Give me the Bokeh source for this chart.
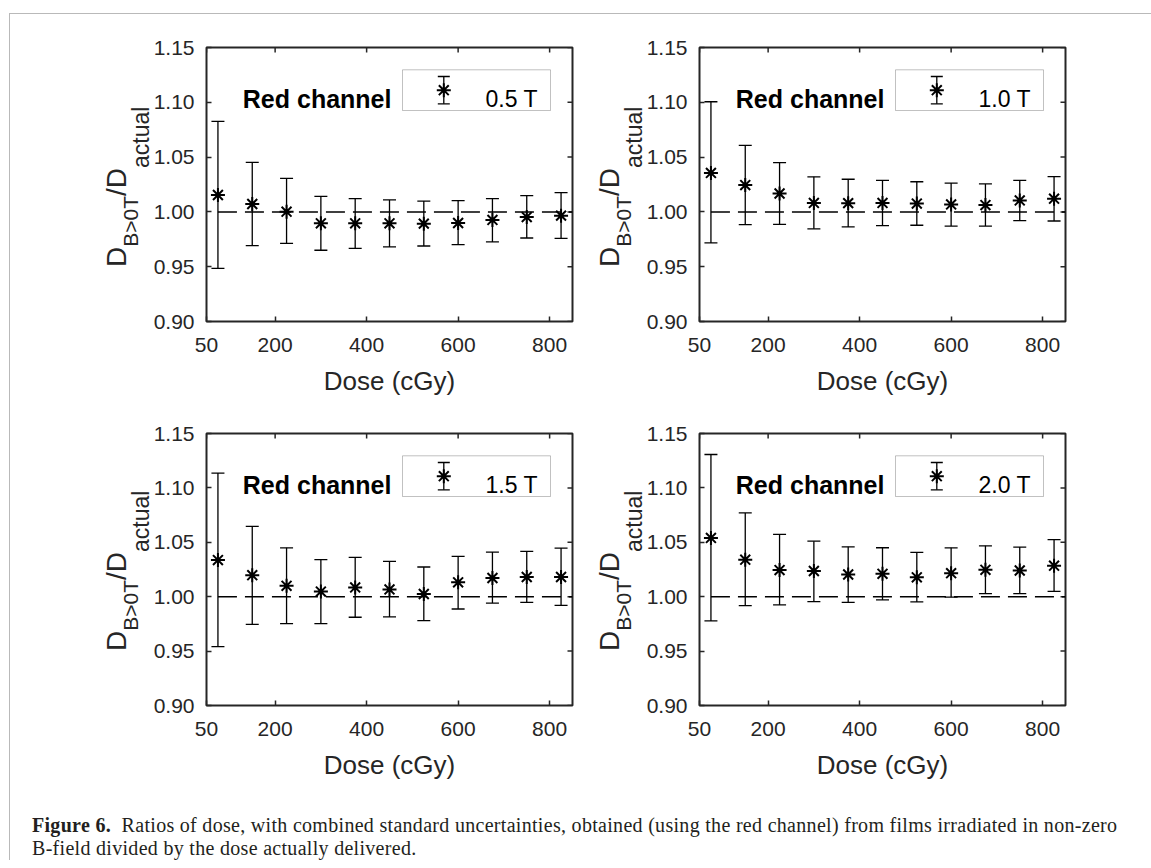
import math
from bokeh.plotting import figure
from bokeh.models import (ColumnDataSource, Whisker, TeeHead, FixedTicker,
                          Range1d, Label, BoxAnnotation, Div, Spacer, NumeralTickFormatter)
from bokeh.layouts import column, row
from bokeh.embed import file_html
from bokeh.resources import INLINE

# ---------------- data ----------------
dose = [75, 150, 225, 300, 375, 450, 525, 600, 675, 750, 825]

ratio_05 = [1.0154, 1.0072, 1.0002, 0.9896, 0.9896, 0.9896, 0.9893, 0.9899, 0.9927, 0.9953, 0.9966]
upper_05 = [1.0826, 1.0452, 1.0305, 1.0142, 1.0121, 1.0109, 1.0099, 1.0103, 1.0122, 1.0148, 1.0176]
lower_05 = [0.9484, 0.9693, 0.9713, 0.9650, 0.9668, 0.9680, 0.9689, 0.9702, 0.9726, 0.9762, 0.9759]

ratio_10 = [1.0356, 1.0245, 1.0168, 1.0082, 1.0080, 1.0082, 1.0076, 1.0068, 1.0062, 1.0105, 1.0121]
upper_10 = [1.1005, 1.0607, 1.0450, 1.0320, 1.0298, 1.0287, 1.0275, 1.0263, 1.0255, 1.0288, 1.0322]
lower_10 = [0.9717, 0.9884, 0.9886, 0.9846, 0.9863, 0.9875, 0.9878, 0.9871, 0.9871, 0.9920, 0.9917]

ratio_15 = [1.0337, 1.0198, 1.0100, 1.0047, 1.0085, 1.0067, 1.0025, 1.0132, 1.0172, 1.0181, 1.0181]
upper_15 = [1.1136, 1.0646, 1.0449, 1.0340, 1.0361, 1.0324, 1.0273, 1.0371, 1.0410, 1.0417, 1.0447]
lower_15 = [0.9542, 0.9746, 0.9752, 0.9753, 0.9811, 0.9814, 0.9780, 0.9887, 0.9941, 0.9948, 0.9921]

ratio_20 = [1.0540, 1.0340, 1.0245, 1.0236, 1.0204, 1.0210, 1.0178, 1.0216, 1.0247, 1.0241, 1.0285]
upper_20 = [1.1307, 1.0770, 1.0573, 1.0510, 1.0458, 1.0450, 1.0408, 1.0449, 1.0468, 1.0456, 1.0524]
lower_20 = [0.9777, 0.9918, 0.9924, 0.9955, 0.9948, 0.9970, 0.9952, 0.9996, 1.0028, 1.0028, 1.0049]

field_labels = ["0.5 T", "1.0 T", "1.5 T", "2.0 T"]
channel_label = "Red channel"
x_label = "Dose (cGy)"
y_label_parts = ["D", "B&gt;0T", "/D", "actual"]   # D_{B>0T}/D_{actual}
x_ticks = [50, 200, 400, 600, 800]
y_ticks = [0.90, 0.95, 1.00, 1.05, 1.10, 1.15]
ref_x = [75, 850]
ref_y = [1.0, 1.0]
x_lim = (50, 850)
y_lim = (0.90, 1.15)

caption_bold = "Figure 6."
caption_line1 = ("Ratios of dose, with combined standard uncertainties, obtained (using the red channel) "
                 "from films irradiated in non-zero")
caption_line2 = "B-field divided by the dose actually delivered."

# ---------------- styling ----------------
FONT = "Liberation Sans"
AX_COLOR = "#262626"
FW = 366
LEFT_AX = 56     # room for y tick labels


def make_panel(ratio, upper, lower, field, right, top, bottom, fh):
    p = figure(frame_width=FW, frame_height=fh,
               x_range=Range1d(*x_lim), y_range=Range1d(*y_lim),
               min_border_left=LEFT_AX, min_border_right=right,
               min_border_top=top, min_border_bottom=bottom,
               output_backend="svg", toolbar_location=None)
    p.grid.visible = False
    p.outline_line_color = AX_COLOR
    p.outline_line_width = 2
    p.background_fill_color = "white"
    p.border_fill_color = "white"

    def dx(px):  # frame pixel offset -> data x
        return x_lim[0] + px / FW * (x_lim[1] - x_lim[0])

    def dy(py):  # frame pixel offset from top -> data y
        return y_lim[1] - py / fh * (y_lim[1] - y_lim[0])

    xa = p.xaxis[0]
    ya = p.yaxis[0]
    xa.ticker = FixedTicker(ticks=x_ticks)
    ya.ticker = FixedTicker(ticks=y_ticks)
    ya.formatter = NumeralTickFormatter(format="0.00")
    for ax in (xa, ya):
        ax.axis_line_color = None
        ax.major_tick_in = 5
        ax.major_tick_out = 0
        ax.minor_tick_line_color = None
        ax.major_tick_line_color = AX_COLOR
        ax.major_tick_line_width = 1.5
        ax.major_label_text_font = FONT
        ax.major_label_text_font_size = "21px"
        ax.major_label_text_color = AX_COLOR
    ya.major_label_standoff = 12
    xa.major_label_standoff = 16
    xa.axis_label = x_label
    xa.axis_label_text_font = FONT
    xa.axis_label_text_font_size = "26px"
    xa.axis_label_text_font_style = "normal"
    xa.axis_label_text_color = AX_COLOR
    xa.axis_label_standoff = 11

    # inward ticks on the top and right edges of the box
    p.ray(x=x_ticks, y=[y_lim[1]] * len(x_ticks), length=5, length_units="screen",
          angle=-math.pi / 2, line_color=AX_COLOR, line_width=1.5)
    p.ray(x=[x_lim[1]] * len(y_ticks), y=y_ticks, length=5, length_units="screen",
          angle=math.pi, line_color=AX_COLOR, line_width=1.5)

    # reference line at 1.00
    p.line(ref_x, ref_y, line_color="black", line_width=1.5, line_dash="19 8")

    src = ColumnDataSource(dict(x=dose, y=ratio, upper=upper, lower=lower))
    w = Whisker(base="x", upper="upper", lower="lower", source=src,
                line_color="black", line_width=1.3,
                upper_head=TeeHead(size=13, line_color="black", line_width=1.3),
                lower_head=TeeHead(size=13, line_color="black", line_width=1.3))
    p.add_layout(w)
    p.scatter("x", "y", source=src, marker="asterisk", size=14,
              line_color="black", line_width=2)

    # legend box (manual, MATLAB style)
    p.add_layout(BoxAnnotation(left=dx(196), right=dx(344), top=dy(22.3), bottom=dy(63),
                               fill_color="white", fill_alpha=1.0, level="underlay",
                               line_color="#333333", line_width=1))
    leg_src = ColumnDataSource(dict(x=[dx(237.3)], y=[dy(42.7)],
                                    upper=[dy(29)], lower=[dy(56.3)]))
    p.add_layout(Whisker(base="x", upper="upper", lower="lower", source=leg_src,
                         line_color="black", line_width=1.3,
                         upper_head=TeeHead(size=12, line_color="black", line_width=1.3),
                         lower_head=TeeHead(size=12, line_color="black", line_width=1.3)))
    p.scatter("x", "y", source=leg_src, marker="asterisk", size=14,
              line_color="black", line_width=2)
    p.add_layout(Label(x=dx(279), y=dy(51.3), text=field, text_font=FONT,
                       text_font_size="23px", text_color="black",
                       text_align="left", text_baseline="alphabetic"))
    p.add_layout(Label(x=dx(36.3), y=dy(51.3), text=channel_label, text_font=FONT,
                       text_font_size="25px", text_font_style="bold", text_color="black",
                       text_align="left", text_baseline="alphabetic"))
    return p


def make_ylabel(width, height, top, fh):
    """Rotated y-axis label D_{B>0T}/D_{actual} as HTML text in a strip left of the panel."""
    start = top + 219.7 * fh / 274        # where the label begins (its lower end), from strip top
    left = width - 47                      # main baseline ends up 23.3 px left of the strip edge
    html = (
        f'<div style="position:relative;width:{width}px;height:{height}px;">'
        f'<div style="position:absolute;left:{left}px;top:{start:.1f}px;'
        f'transform:rotate(-90deg);transform-origin:0 0;white-space:nowrap;'
        f'font-family:\'{FONT}\';font-size:28px;line-height:28px;color:{AX_COLOR};">'
        f'{y_label_parts[0]}'
        f'<span style="font-size:21px;vertical-align:-12px;">{y_label_parts[1]}</span>'
        f'{y_label_parts[2]}'
        f'<span style="font-size:23px;vertical-align:-23px;">{y_label_parts[3]}</span>'
        f'</div></div>'
    )
    return Div(text=html, width=width, height=height, margin=0)


TOP_H = 33 + 274 + 80
BOT_H = 32 + 272 + 80

p1 = make_panel(ratio_05, upper_05, lower_05, field_labels[0], 17, 33, 80, 274)
p2 = make_panel(ratio_10, upper_10, lower_10, field_labels[1], 60, 33, 80, 274)
p3 = make_panel(ratio_15, upper_15, lower_15, field_labels[2], 17, 32, 80, 272)
p4 = make_panel(ratio_20, upper_20, lower_20, field_labels[3], 60, 32, 80, 272)

l1 = make_ylabel(140, TOP_H, 33, 274)
l2 = make_ylabel(54, TOP_H, 33, 274)
l3 = make_ylabel(140, BOT_H, 32, 272)
l4 = make_ylabel(54, BOT_H, 32, 272)

caption = Div(
    text=(f'<div style="margin-left:22px; margin-top:29px; font-family:\'Liberation Serif\'; '
          f'font-size:20px; letter-spacing:0.3px; line-height:23px; color:#231f20; white-space:nowrap;">'
          f'<b>{caption_bold}</b>&nbsp;&nbsp;{caption_line1}<br>{caption_line2}</div>'),
    width=1115, height=75, margin=0)

content = column(row(l1, p1, l2, p2), row(l3, p3, l4, p4), caption)
top_line = Spacer(width=1142, height=1, styles={"background-color": "#b9b9b9"})
left_line = Spacer(width=1, height=846, styles={"background-color": "#b9b9b9"})
layout = column(Spacer(height=13), row(Spacer(width=9), column(top_line, row(left_line, content))))

open("out.html", "w").write(file_html(layout, INLINE))
